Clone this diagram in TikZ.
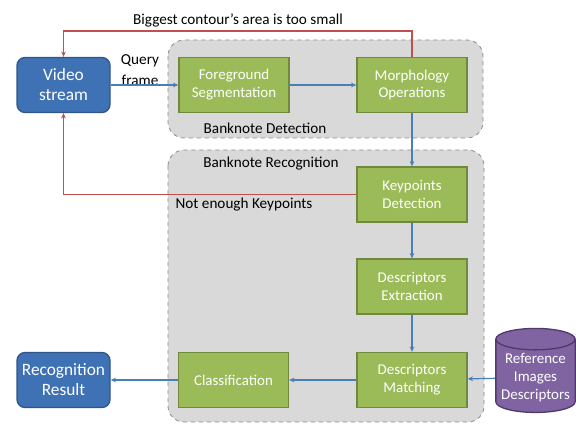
\documentclass[tikz,border=0pt]{standalone}
\usepackage{fontspec}
\setmainfont{Carlito}
\usetikzlibrary{shapes.geometric,arrows.meta}
\definecolor{gfill}{HTML}{9BBB59}
\definecolor{gline}{HTML}{71893F}
\definecolor{bfill}{HTML}{3F72B5}
\definecolor{bline}{HTML}{2F5689}
\definecolor{pfill}{HTML}{8064A2}
\definecolor{pline}{HTML}{4F3A6A}
\definecolor{grp}{HTML}{D9D9D9}
\definecolor{grpline}{HTML}{8C8C8C}
\definecolor{redc}{HTML}{C0504D}
\definecolor{bluec}{HTML}{4A7EBB}
\tikzset{
  stepbox/.style={draw=gline, line width=1pt, fill=gfill, text=white, minimum width=82.5pt, minimum height=41.25pt, align=center, inner sep=1pt, font=\fontsize{11.2}{13.4}\selectfont},
  endbox/.style={draw=bline, line width=1pt, fill=bfill, text=white, rounded corners=6pt, minimum width=69.75pt, minimum height=41.25pt, align=center, inner sep=1pt, font=\fontsize{13}{15}\selectfont},
  grpbox/.style={draw=grpline, dashed, fill=grp, rounded corners=12pt, line width=0.6pt},
  flow/.style={draw=bluec, line width=0.9pt, -{Stealth[length=4pt,width=3.5pt]}},
  back/.style={draw=redc, line width=0.9pt, -{Stealth[length=4pt,width=3.5pt]}},
  lbl/.style={font=\fontsize{11.4}{13.6}\selectfont, text=black, inner sep=0pt}
}
\begin{document}
\begin{tikzpicture}[x=0.75pt,y=-0.75pt]
\useasboundingbox (0,0) rectangle (576,424);
% group boxes
\draw[grpbox] (168,40) rectangle (483,138);
\draw[grpbox] (168,150) rectangle (484,422);
\node[lbl] (detlbl) at (265,128) {Banknote Detection};
\node[lbl] (reclbl) at (271,164) {Banknote Recognition};
% nodes
\node[endbox] (video) at (63.5,85) {Video\\stream};
\node[stepbox] (fg) at (234,85) {Foreground\\Segmentation};
\node[stepbox] (morph) at (412,85) {Morphology\\Operations};
\node[stepbox] (kp) at (412,194.5) {Keypoints\\Detection};
\node[stepbox] (ext) at (412,286.5) {Descriptors\\Extraction};
\node[stepbox] (match) at (412,380) {Descriptors\\Matching};
\node[stepbox] (cls) at (233.5,380) {Classification};
\node[endbox] (res) at (63.5,380) {Recognition\\Result};
\node[cylinder, shape border rotate=90, aspect=0.3, draw=pline, line width=1pt, fill=pfill, text=white, minimum width=59.5pt, minimum height=63pt, align=center, inner sep=1pt, font=\fontsize{11.2}{13.4}\selectfont] (ref) at (535.5,377.5) {Reference\\Images\\Descriptors};
% labels
\node[lbl] (biglbl) at (238,20) {Biggest contour’s area is too small};
\node[lbl, align=center, font=\fontsize{11.4}{16}\selectfont] (qlbl) at (140,70) {Query\\frame};
\node[lbl] (nelbl) at (244,205) {Not enough Keypoints};
% flows
\draw[flow] (video) -- (fg);
\draw[flow] (fg) -- (morph);
\draw[flow] (morph) -- (kp);
\draw[flow] (kp) -- (ext);
\draw[flow] (ext) -- (match);
\draw[flow] (ref) -- (match);
\draw[flow] (match) -- (cls);
\draw[flow] (cls) -- (res);
% feedback
\coordinate (topy) at (0,31);
\draw[back] (morph.north) -- (morph.north |- topy) -| (video.north);
\draw[back] (kp.west) -| (video.south);
\end{tikzpicture}
\end{document}
